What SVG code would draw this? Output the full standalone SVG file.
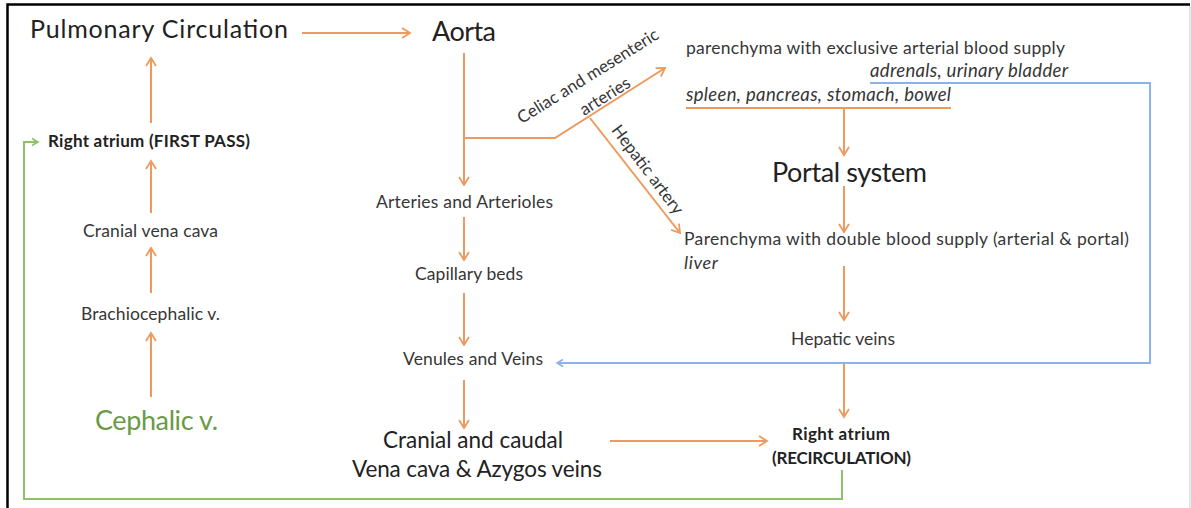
<svg xmlns="http://www.w3.org/2000/svg" width="1191" height="508" viewBox="0 0 1191 508">
<defs>
<style>
text{font-family:Lato,"Open Sans","Liberation Sans",sans-serif;fill:#363636}
.big{fill:#222}
.it{font-style:italic}
.b{font-weight:bold;fill:#222}
.o{stroke:#EE9A5E;stroke-width:2;fill:none}
.bl{stroke:#8DB3E2;stroke-width:2;fill:none}
.g{stroke:#8DC26A;stroke-width:2;fill:none}
</style>
<marker id="ao" markerUnits="userSpaceOnUse" markerWidth="14" markerHeight="14" viewBox="-10 -7 12 14" refX="0" refY="0" orient="auto"><path d="M-8,-5 L0,0 L-8,5" fill="none" stroke="#EE9A5E" stroke-width="1.8"/></marker>
<marker id="ab" markerUnits="userSpaceOnUse" markerWidth="12" markerHeight="12" viewBox="-8 -6 10 12" refX="0" refY="0" orient="auto"><path d="M-6,-3.5 L0,0 L-6,3.5" fill="none" stroke="#8DB3E2" stroke-width="1.6"/></marker>
<marker id="ag" markerUnits="userSpaceOnUse" markerWidth="12" markerHeight="12" viewBox="-8 -6 10 12" refX="0" refY="0" orient="auto"><path d="M-6,-3.5 L0,0 L-6,3.5" fill="none" stroke="#8DC26A" stroke-width="1.6"/></marker>
</defs>
<rect width="1191" height="508" fill="#fff"/>
<path d="M7.5,508 V4.5 H1190" fill="none" stroke="#000" stroke-width="2.5"/>
<path d="M1190,6 V508" stroke="#ddd" stroke-width="1.5"/>

<g id="connectors">
<path class="o" d="M302,33 H410" marker-end="url(#ao)"/>
<path class="o" d="M464,53 V185" marker-end="url(#ao)"/>
<path class="o" d="M464,138 H555 L665,68" marker-end="url(#ao)"/>
<path class="o" d="M590,118 L680,233" marker-end="url(#ao)"/>
<path class="o" d="M686,108 H951"/>
<path class="o" d="M844,108 V155" marker-end="url(#ao)"/>
<path class="o" d="M844,186 V232" marker-end="url(#ao)"/>
<path class="o" d="M844,266 V320" marker-end="url(#ao)"/>
<path class="o" d="M844,363 V417" marker-end="url(#ao)"/>
<path class="o" d="M610,441 H767" marker-end="url(#ao)"/>
<path class="o" d="M151,123 V58" marker-end="url(#ao)"/>
<path class="o" d="M151,213 V161" marker-end="url(#ao)"/>
<path class="o" d="M151,293 V248" marker-end="url(#ao)"/>
<path class="o" d="M151,397 V333" marker-end="url(#ao)"/>
<path class="o" d="M464,217 V260" marker-end="url(#ao)"/>
<path class="o" d="M464,293 V345" marker-end="url(#ao)"/>
<path class="o" d="M464,380 V428" marker-end="url(#ao)"/>
<path class="bl" d="M870,83 H1150 V363 H557" marker-end="url(#ab)"/>
<path class="g" d="M842,470 V499 H24 V142 H38" marker-end="url(#ag)"/>
</g>

<g id="pulmonary"><text class="big" x="30" y="38" font-size="25" textLength="258">Pulmonary Circulation</text></g>
<g id="aorta"><text class="big" x="432" y="41" font-size="27" textLength="64">Aorta</text></g>
<g id="celiac-label">
<text x="591" y="81" font-size="17" text-anchor="middle" transform="rotate(-32 591 81)">Celiac and mesenteric</text>
<text x="608" y="101" font-size="17" text-anchor="middle" transform="rotate(-32 608 101)">arteries</text>
</g>
<g id="hepatic-label"><text x="643" y="173" font-size="17" text-anchor="middle" transform="rotate(53 643 173)">Hepatic artery</text></g>
<g id="exclusive">
<text x="686" y="54" font-size="17.5" textLength="379">parenchyma with exclusive arterial blood supply</text>
<text class="it" x="870" y="77" font-size="18.5" textLength="198">adrenals, urinary bladder</text>
<text class="it" x="686" y="101" font-size="18.5" textLength="265">spleen, pancreas, stomach, bowel</text>
</g>
<g id="portal"><text class="big" x="772" y="182" font-size="27" textLength="155">Portal system</text></g>
<g id="double">
<text x="684" y="245" font-size="17.5" textLength="445">Parenchyma with double blood supply (arterial &amp; portal)</text>
<text class="it" x="684" y="269" font-size="18" textLength="34">liver</text>
</g>
<g id="hepatic-veins"><text x="791" y="345" font-size="17.5" textLength="104">Hepatic veins</text></g>
<g id="ra-recirc">
<text class="b" x="792" y="440" font-size="17" textLength="98">Right atrium</text>
<text class="b" x="772" y="464" font-size="17" textLength="139">(RECIRCULATION)</text>
</g>
<g id="ra-first"><text class="b" x="48" y="147" font-size="17" textLength="202">Right atrium (FIRST PASS)</text></g>
<g id="cranial-vc"><text x="83" y="237" font-size="17.5" textLength="135">Cranial vena cava</text></g>
<g id="brachio"><text x="81" y="320" font-size="17.5" textLength="139">Brachiocephalic v.</text></g>
<g id="cephalic"><text x="95" y="430" font-size="27" textLength="123" style="fill:#6A9A47">Cephalic v.</text></g>
<g id="arteries"><text x="376" y="208" font-size="17.5" textLength="177">Arteries and Arterioles</text></g>
<g id="capillary"><text x="415" y="280" font-size="17.5" textLength="108">Capillary beds</text></g>
<g id="venules"><text x="403" y="365" font-size="17.5" textLength="140">Venules and Veins</text></g>
<g id="vena-cava">
<text class="big" x="383" y="448" font-size="22.5" textLength="180">Cranial and caudal</text>
<text class="big" x="352" y="477" font-size="22.5" textLength="250">Vena cava &amp; Azygos veins</text>
</g>
</svg>
